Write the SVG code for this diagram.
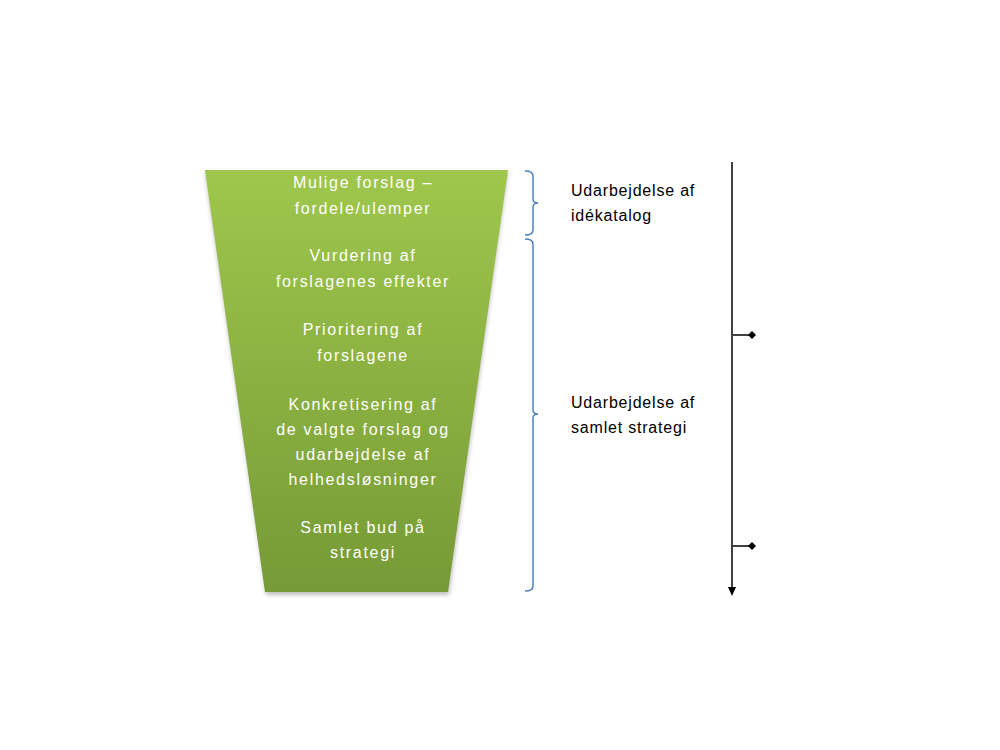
<svg xmlns="http://www.w3.org/2000/svg" width="1000" height="750" viewBox="0 0 1000 750">
<style>
.ft{font-family:"Liberation Sans",Arial,sans-serif;font-size:16px;fill:#ffffff;text-anchor:middle;letter-spacing:1.7px}
.lt{font-family:"Liberation Sans",Arial,sans-serif;font-size:16px;fill:#000000;letter-spacing:0.8px}
.br{fill:none;stroke:#4f81bd;stroke-width:1.5}
.tl{stroke:#000;stroke-width:1.5;fill:none}
</style>
<defs>
<linearGradient id="g" x1="0" y1="0" x2="0" y2="1">
<stop offset="0" stop-color="#9fc74c"/>
<stop offset="1" stop-color="#769a36"/>
</linearGradient>
<filter id="sh" x="-10%" y="-10%" width="120%" height="120%">
<feGaussianBlur stdDeviation="2"/>
</filter>
<marker id="dia" markerWidth="10" markerHeight="10" refX="5" refY="5" orient="auto" markerUnits="userSpaceOnUse">
<path d="M5,1 L9,5 L5,9 L1,5 Z" fill="#000"/>
</marker>
</defs>
<g id="funnel">
<path d="M205,172 L508,172 L449,595 L266,595 Z" fill="#000" opacity="0.25" filter="url(#sh)"/>
<path d="M205,170 L508,170 L448,592 L265,592 Z" fill="url(#g)"/>
<text class="ft" x="363" y="188">Mulige forslag –</text>
<text class="ft" x="363" y="214">fordele/ulemper</text>
<text class="ft" x="363" y="261">Vurdering af</text>
<text class="ft" x="363" y="287">forslagenes effekter</text>
<text class="ft" x="363" y="335">Prioritering af</text>
<text class="ft" x="363" y="361">forslagene</text>
<text class="ft" x="363" y="410">Konkretisering af</text>
<text class="ft" x="363" y="435">de valgte forslag og</text>
<text class="ft" x="363" y="460">udarbejdelse af</text>
<text class="ft" x="363" y="485">helhedsløsninger</text>
<text class="ft" x="363" y="533">Samlet bud på</text>
<text class="ft" x="363" y="558">strategi</text>
</g>
<g id="brace1">
<path class="br" d="M525,171 Q533,171 533,176 L533,199 Q533,203 538,203 Q533,203 533,207 L533,230 Q533,235 525,235"/>
<text class="lt" x="571" y="196">Udarbejdelse af</text>
<text class="lt" x="571" y="221">idékatalog</text>
</g>
<g id="brace2">
<path class="br" d="M525,239 Q533,239 533,244 L533,410 Q533,414 538,414 Q533,414 533,418 L533,586 Q533,591 525,591"/>
<text class="lt" x="571" y="408">Udarbejdelse af</text>
<text class="lt" x="571" y="433">samlet strategi</text>
</g>
<g id="connectors">
<line class="tl" x1="732" y1="162" x2="732" y2="588"/>
<path d="M728,587 L736,587 L732,596 Z" fill="#000"/>
<line class="tl" x1="733" y1="335" x2="752" y2="335" marker-end="url(#dia)"/>
<line class="tl" x1="733" y1="546" x2="752" y2="546" marker-end="url(#dia)"/>
</g>
</svg>
